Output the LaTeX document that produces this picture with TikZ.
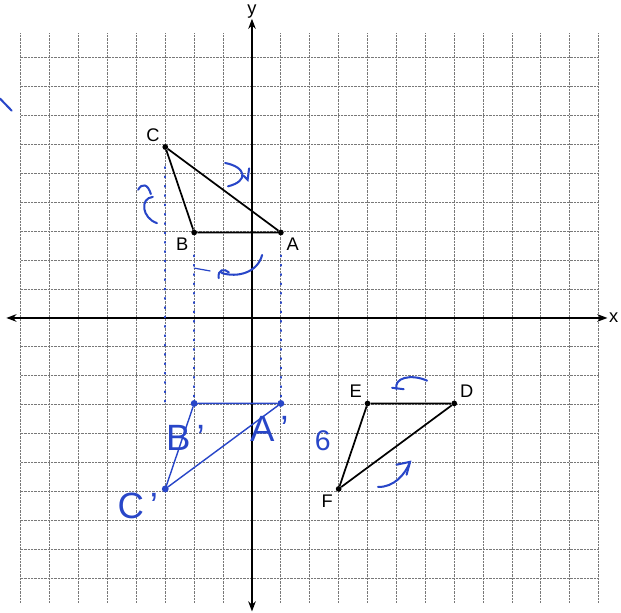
\documentclass[tikz,border=0pt]{standalone}
\usepackage{fontspec}
\setmainfont{Liberation Sans}
\usepackage{tikz}
\usetikzlibrary{arrows.meta, positioning, calc}
\definecolor{ink}{RGB}{40,70,200}
\definecolor{gridgray}{RGB}{120,120,120}

\tikzset{
  pt/.style={circle, fill=black, inner sep=2pt},
  inkpt/.style={circle, fill=ink, inner sep=2.4pt},
  ptlabel/.style={font=\fontsize{18}{20}\selectfont},
  hand/.style={ink, line width=2pt, line cap=round},
  trace/.style={ink, line width=1.6pt, line cap=round, dash pattern=on 1.2pt off 8pt},
  handtext/.style={ink, font=\fontsize{36}{38}\selectfont}
}

\begin{document}
\begin{tikzpicture}[x=1cm, y=0.986cm]
  \useasboundingbox (-8.72,-10.35) rectangle (12.77,11.16);
  % grid
  \draw[gridgray, line width=0.9pt, dash pattern=on 0.9pt off 0.5pt] (-8,-10) grid (12,10);
  % axes
  \draw[{Stealth[length=10pt]}-{Stealth[length=10pt]}, line width=1.3pt] (-8.5,0) -- (12.3,0) node[right, ptlabel, inner sep=1pt] {x};
  \draw[{Stealth[length=10pt]}-{Stealth[length=10pt]}, line width=1.3pt] (0,-10.3) -- (0,10.5) node[above, ptlabel, inner sep=0pt] {y};
  % triangle ABC
  \node[pt, label={[ptlabel]below right:A}] (A) at (1,3) {};
  \node[pt, label={[ptlabel]below left:B}] (B) at (-2,3) {};
  \node[pt, label={[ptlabel]above left:C}] (C) at (-3,6) {};
  \draw[line width=1.7pt] (A) -- (B) -- (C) -- (A);
  % triangle DEF
  \node[pt, label={[ptlabel]above right:D}] (D) at (7,-3) {};
  \node[pt, label={[ptlabel]above left:E}] (E) at (4,-3) {};
  \node[pt, label={[ptlabel]below left:F}] (F) at (3,-6) {};
  \draw[line width=1.7pt] (D) -- (E) -- (F) -- (D);
  % image A'B'C'
  \node[inkpt] (A') at (1,-3) {};
  \node[inkpt] (B') at (-2,-3) {};
  \node[inkpt] (C') at (-3,-6) {};
  \draw[hand, line width=1.4pt] (A') -- (B') -- (C') -- (A');
  \draw[trace] (C) ++(0,-0.7) -- (-3,-3);
  \draw[trace] (B) ++(0,-0.8) -- (B');
  \draw[trace] (A) ++(0,-0.8) -- (A');
  \node[handtext] at (-2.3,-4.2) {B\,'};
  \node[handtext] at (0.6,-3.9) {A\,'};
  \node[handtext] at (-3.95,-6.6) {C\,'};
  % turn marks
  \draw[hand] (-0.93,5.44) .. controls (-0.2,5.3) and (-0.1,4.8) .. (-0.83,4.62);
  \draw[hand] (-0.3,5.0) -- (-0.15,4.85) -- (-0.1,5.25);
  \draw[hand] (-3.43,4.25) .. controls (-3.9,4.2) and (-3.8,3.5) .. (-3.29,3.33);
  \draw[hand] (-3.94,4.5) .. controls (-3.8,4.75) and (-3.6,4.7) .. (-3.5,4.35);
  \draw[hand] (0.35,2.21) .. controls (0.2,1.6) and (-0.5,1.4) .. (-1.05,1.58);
  \draw[hand] (-1.15,1.4) .. controls (-1.2,1.7) and (-0.95,1.75) .. (-0.8,1.6);
  \draw[hand, line width=1.2pt] (-2.0,1.75) -- (-1.45,1.65);
  \draw[hand] (5.0,-2.5) .. controls (4.9,-2.1) and (5.5,-1.95) .. (6.06,-2.2);
  \draw[hand] (4.85,-2.45) -- (5.25,-2.5);
  \draw[hand] (4.36,-5.93) .. controls (4.9,-5.95) and (5.3,-5.5) .. (5.47,-5.05);
  \draw[hand] (5.0,-5.15) -- (5.47,-5.05) -- (5.35,-5.5);
  \node[handtext, font=\fontsize{28}{30}\selectfont] at (2.45,-4.3) {6};
  \draw[hand] (-8.72,7.7) -- (-8.32,7.28);
\end{tikzpicture}
\end{document}
